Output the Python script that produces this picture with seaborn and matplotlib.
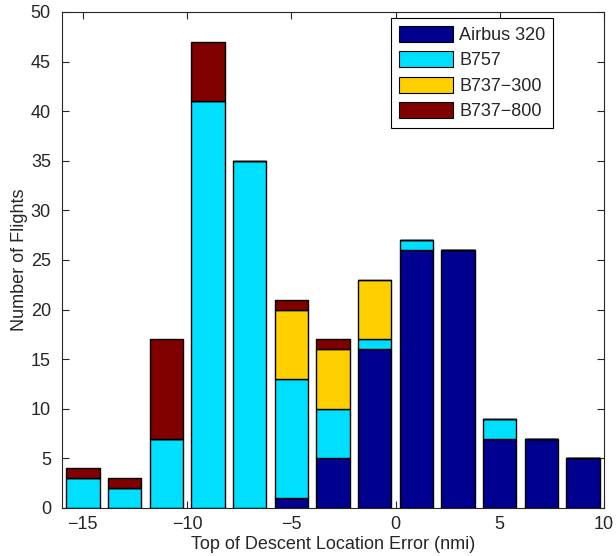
import pandas as pd
import matplotlib
matplotlib.use("Agg")
import matplotlib.pyplot as plt
from matplotlib.patches import Patch
import seaborn as sns

# bin centres (nmi) and counts per aircraft type
bin_centers = [-15, -13, -11, -9, -7, -5, -3, -1, 1, 3, 5, 7, 9]
airbus_320 = [0, 0, 0, 0, 0, 1, 5, 16, 26, 26, 7, 7, 5]
b757 = [3, 2, 7, 41, 35, 12, 5, 1, 1, 0, 2, 0, 0]
b737_300 = [0, 0, 0, 0, 0, 7, 6, 6, 0, 0, 0, 0, 0]
b737_800 = [1, 1, 10, 6, 0, 1, 1, 0, 0, 0, 0, 0, 0]

types = ["Airbus 320", "B757", "B737\u2212300", "B737\u2212800"]
colors = ["#00008F", "#00DFFF", "#FFCF00", "#800000"]

rows = []
for name, counts in zip(types, [airbus_320, b757, b737_300, b737_800]):
    for c, n in zip(bin_centers, counts):
        rows.append({"error": c, "count": n, "type": name})
df = pd.DataFrame(rows)

sns.set_style("ticks")
plt.rcParams["font.family"] = ["Liberation Sans", "DejaVu Sans"]
fs = 13

fig, ax = plt.subplots(figsize=(6.16, 5.56), dpi=100)
fig.subplots_adjust(left=62 / 616, right=604 / 616, bottom=1 - 508 / 556, top=1 - 12 / 556)

# seaborn stacks the last hue level at the bottom, so reverse the order
sns.histplot(data=df, x="error", weights="count", hue="type",
             hue_order=types[::-1], palette=colors[::-1],
             bins=list(range(-16, 11, 2)), shrink=0.8, multiple="stack",
             edgecolor="black", linewidth=1, alpha=1, legend=False, ax=ax)

ax.set_xlim(-16, 10)
ax.set_ylim(0, 50)
ax.set_xticks(range(-15, 11, 5))
ax.set_yticks(range(0, 51, 5))
ax.set_xlabel("Top of Descent Location Error (nmi)", fontsize=fs, labelpad=2)
ax.set_ylabel("Number of Flights", fontsize=fs, labelpad=2)
ax.tick_params(direction="in", length=5, top=True, right=True, labelsize=fs, width=0.8)
ax.tick_params(axis="y", pad=8)
ax.tick_params(axis="x", pad=6)
for s in ax.spines.values():
    s.set_visible(True)
    s.set_linewidth(0.8)

handles = [Patch(facecolor=c, edgecolor="black", linewidth=0.8) for c in colors]
leg = ax.legend(handles, types, loc="upper right", bbox_to_anchor=(0.906, 0.988),
                borderaxespad=0, fancybox=False, framealpha=1, edgecolor="black",
                fontsize=fs, handlelength=3.0, handleheight=1.0, labelspacing=0.4,
                handletextpad=0.35, borderpad=0.42)
leg.get_frame().set_linewidth(0.8)

fig.savefig("out.png", dpi=100)
